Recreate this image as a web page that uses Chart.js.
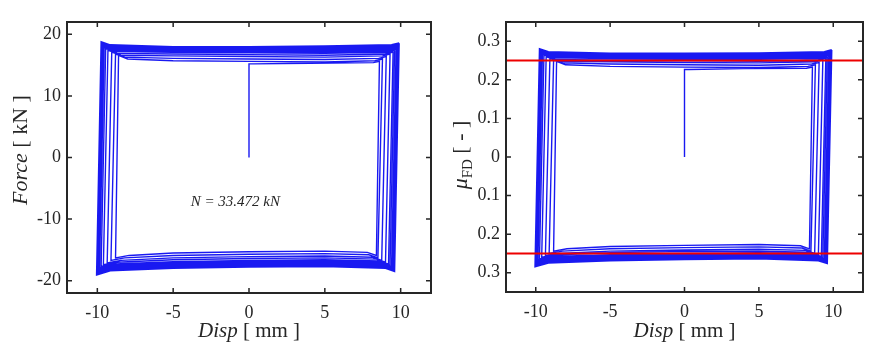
<!DOCTYPE html>
<html>
<head>
<meta charset="utf-8">
<script src="https://cdn.jsdelivr.net/npm/chart.js@4.4.0/dist/chart.umd.min.js"></script>
<style>
  body { margin: 0; background: #fff; }
  canvas { position: absolute; top: 0; }
</style>
</head>
<body>
<canvas id="forceChart" width="442" height="345" style="left:0"></canvas>
<canvas id="muChart" width="442" height="345" style="left:442px"></canvas>
<script>
// first loading branch (disp in mm, force in kN, mu in -)
const startDisp = [0, 0, 0.3, 4, 8.2, 8.6];
const startForce = [0, 15.2, 15.2, 15.3, 15.4, 15.6];
const startMu = [0, 0.227, 0.227, 0.229, 0.230, 0.233];

// one row per cycle: drop at right, bottom to the left, rise at left, top to the right
const cycleDisp = [
  [8.4, 7.8, 5, 0, -5, -7.9, -8.8, -8.6, -8.0, -5, 0, 5, 8.3, 8.8],
  [8.5, 7.9, 5, 0, -5, -8.2, -9.1, -8.8, -8.2, -5, 0, 5, 8.55, 9.05],
  [8.75, 8.15, 5, 0, -5, -8.45, -9.35, -9.05, -8.45, -5, 0, 5, 8.8, 9.3],
  [9.0, 8.4, 5, 0, -5, -8.7, -9.6, -9.3, -8.7, -5, 0, 5, 9.0, 9.5],
  [9.2, 8.6, 5, 0, -5, -8.85, -9.75, -9.45, -8.85, -5, 0, 5, 9.1, 9.6],
  [9.3, 8.7, 5, 0, -5, -8.95, -9.85, -9.55, -8.95, -5, 0, 5, 9.2, 9.7],
  [9.4, 8.8, 5, 0, -5, -9.0, -9.9, -9.6, -9.0, -5, 0, 5, 9.25, 9.75],
  [9.45, 8.85, 5, 0, -5, -9.05, -9.95, -9.65, -9.05, -5, 0, 5, 9.3, 9.8],
  [9.5, 8.9, 5, 0, -5, -9.1, -10.0, -9.7, -9.1, -5, 0, 5, 9.35, 9.85],
  [9.55, 8.95, 5, 0, -5, -9.1, -10.0, -9.7, -9.1, -5, 0, 5, 9.35, 9.85],
  [9.55, 8.95, 5, 0, -5, -9.15, -10.05, -9.75, -9.15, -5, 0, 5, 9.4, 9.9],
  [9.6, 9.0, 5, 0, -5, -9.15, -10.05, -9.75, -9.15, -5, 0, 5, 9.4, 9.9]
];
const cycleForce = [
  [-15.9, -15.4, -15.2, -15.3, -15.5, -15.9, -16.3, 16.6, 16.0, 15.7, 15.6, 15.5, 15.7, 16.0],
  [-16.3, -15.8, -15.6, -15.7, -15.9, -16.3, -16.7, 16.8, 16.3, 16.1, 16.0, 15.9, 16.1, 16.4],
  [-16.7, -16.2, -16.0, -16.1, -16.3, -16.7, -17.1, 17.1, 16.6, 16.5, 16.4, 16.3, 16.5, 16.8],
  [-17.0, -16.5, -16.3, -16.4, -16.6, -17.0, -17.4, 17.4, 16.9, 16.8, 16.7, 16.6, 16.8, 17.1],
  [-17.3, -16.8, -16.6, -16.7, -16.9, -17.3, -17.7, 17.7, 17.2, 17.1, 17.0, 16.9, 17.1, 17.4],
  [-17.5, -17.0, -16.8, -16.9, -17.1, -17.5, -17.9, 17.9, 17.4, 17.3, 17.2, 17.1, 17.3, 17.6],
  [-17.7, -17.2, -17.0, -17.1, -17.3, -17.7, -18.1, 18.1, 17.6, 17.5, 17.4, 17.3, 17.5, 17.8],
  [-17.9, -17.4, -17.2, -17.3, -17.5, -17.9, -18.3, 18.2, 17.7, 17.6, 17.5, 17.4, 17.6, 17.9],
  [-18.0, -17.5, -17.3, -17.4, -17.6, -18.0, -18.5, 18.4, 17.9, 17.8, 17.7, 17.6, 17.8, 18.1],
  [-18.2, -17.7, -17.5, -17.6, -17.8, -18.2, -18.7, 18.5, 18.0, 17.9, 17.8, 17.8, 18.0, 18.3],
  [-18.3, -17.8, -17.6, -17.7, -17.9, -18.3, -18.9, 18.6, 18.1, 18.0, 17.9, 18.0, 18.2, 18.4],
  [-18.5, -18.0, -17.7, -17.8, -18.0, -18.4, -19.1, 18.8, 18.3, 18.0, 18.0, 18.1, 18.3, 18.6]
];
const cycleMu = [
  [-0.238, -0.230, -0.227, -0.229, -0.232, -0.238, -0.244, 0.248, 0.239, 0.235, 0.233, 0.232, 0.235, 0.239],
  [-0.244, -0.236, -0.233, -0.235, -0.238, -0.244, -0.250, 0.251, 0.244, 0.241, 0.239, 0.238, 0.241, 0.245],
  [-0.250, -0.242, -0.239, -0.241, -0.244, -0.250, -0.255, 0.255, 0.248, 0.247, 0.245, 0.244, 0.247, 0.251],
  [-0.254, -0.247, -0.244, -0.245, -0.248, -0.254, -0.260, 0.260, 0.253, 0.251, 0.250, 0.248, 0.251, 0.255],
  [-0.258, -0.251, -0.248, -0.250, -0.253, -0.258, -0.264, 0.264, 0.257, 0.255, 0.254, 0.253, 0.255, 0.260],
  [-0.261, -0.254, -0.251, -0.253, -0.255, -0.261, -0.267, 0.267, 0.260, 0.258, 0.257, 0.255, 0.258, 0.263],
  [-0.264, -0.257, -0.254, -0.255, -0.258, -0.264, -0.270, 0.270, 0.263, 0.261, 0.260, 0.258, 0.261, 0.266],
  [-0.267, -0.260, -0.257, -0.258, -0.261, -0.267, -0.273, 0.272, 0.264, 0.263, 0.261, 0.260, 0.263, 0.267],
  [-0.269, -0.261, -0.258, -0.260, -0.263, -0.269, -0.276, 0.275, 0.267, 0.266, 0.264, 0.263, 0.266, 0.270],
  [-0.272, -0.264, -0.261, -0.263, -0.266, -0.272, -0.279, 0.276, 0.269, 0.267, 0.266, 0.266, 0.269, 0.273],
  [-0.273, -0.266, -0.263, -0.264, -0.267, -0.273, -0.282, 0.278, 0.270, 0.269, 0.267, 0.269, 0.272, 0.275],
  [-0.276, -0.269, -0.264, -0.266, -0.269, -0.275, -0.285, 0.281, 0.273, 0.269, 0.269, 0.270, 0.273, 0.278]
];

const dispTicks = [-10, -5, 0, 5, 10];
const forceTicks = [-20, -10, 0, 10, 20];
const muTicks = [-0.3, -0.2, -0.1, 0, 0.1, 0.2, 0.3];
const muTickLabels = ['0.3', '0.2', '0.1', '0', '0.1', '0.2', '0.3'];
const frictionLimit = [0.25, -0.25];
const noteText = 'N = 33.472 kN';
const notePos = [-0.9, -7.3]; // disp, force

const FONT = "'Liberation Serif', 'Times New Roman', serif";
const INK = '#262626';
const LOOP_BLUE = 'rgba(0, 0, 240, 0.9)';

// join the start branch and all cycle rows into one path
function buildPath(yStart, yRows) {
  const pts = startDisp.map((x, i) => ({ x: x, y: yStart[i] }));
  cycleDisp.forEach((row, r) => {
    row.forEach((x, i) => pts.push({ x: x, y: yRows[r][i] }));
  });
  return pts;
}

// frame with inward ticks on all four sides
const frameTicks = {
  id: 'frameTicks',
  afterDraw(chart) {
    const { ctx, chartArea: a, scales } = chart;
    ctx.save();
    ctx.strokeStyle = INK;
    ctx.lineWidth = 1.5;
    ctx.beginPath();
    scales.x.ticks.forEach(t => {
      const px = scales.x.getPixelForValue(t.value);
      ctx.moveTo(px, a.bottom); ctx.lineTo(px, a.bottom - 5);
      ctx.moveTo(px, a.top); ctx.lineTo(px, a.top + 5);
    });
    scales.y.ticks.forEach(t => {
      const py = scales.y.getPixelForValue(t.value);
      ctx.moveTo(a.left, py); ctx.lineTo(a.left + 5, py);
      ctx.moveTo(a.right, py); ctx.lineTo(a.right - 5, py);
    });
    ctx.stroke();
    ctx.lineWidth = 2;
    ctx.strokeRect(a.left, a.top, a.width, a.height);
    ctx.restore();
  }
};

// draw a row of text pieces with mixed styles, centred on (0,0) of current transform
function drawPieces(ctx, pieces) {
  let total = 0;
  pieces.forEach(p => { ctx.font = p.font; p.w = ctx.measureText(p.t).width; total += p.w; });
  let x = -total / 2;
  pieces.forEach(p => {
    ctx.font = p.font;
    ctx.fillText(p.t, x, p.dy || 0);
    x += p.w;
  });
}

function axisTitles(xPieces, yPieces, yTitleX, yTitleY) {
  return {
    id: 'axisTitles',
    afterDraw(chart) {
      const { ctx, chartArea: a } = chart;
      ctx.save();
      ctx.fillStyle = INK;
      ctx.textBaseline = 'alphabetic';
      ctx.textAlign = 'left';
      ctx.save();
      ctx.translate((a.left + a.right) / 2, 337);
      drawPieces(ctx, xPieces);
      ctx.restore();
      ctx.save();
      ctx.translate(yTitleX, yTitleY);
      ctx.rotate(-Math.PI / 2);
      drawPieces(ctx, yPieces);
      ctx.restore();
      ctx.restore();
    }
  };
}

const noteLabel = {
  id: 'noteLabel',
  afterDraw(chart) {
    const { ctx, scales } = chart;
    ctx.save();
    ctx.fillStyle = INK;
    ctx.font = 'italic 15px ' + FONT;
    ctx.textAlign = 'center';
    ctx.textBaseline = 'middle';
    ctx.fillText(noteText, scales.x.getPixelForValue(notePos[0]), scales.y.getPixelForValue(notePos[1]));
    ctx.restore();
  }
};

function makeOptions(yMin, yMax, yTickValues, yLabel, yWidth, padRight, xHeight) {
  return {
    responsive: false,
    animation: false,
    layout: { padding: { top: 22, right: padRight, left: 0, bottom: 0 } },
    plugins: { legend: { display: false }, tooltip: { enabled: false } },
    scales: {
      x: {
        type: 'linear',
        min: -12,
        max: 12,
        grid: { display: false, drawTicks: false },
        border: { display: false },
        afterBuildTicks: s => { s.ticks = dispTicks.map(v => ({ value: v })); },
        afterFit: s => { s.height = xHeight; },
        ticks: { color: INK, padding: 9, font: { family: FONT, size: 18 }, callback: v => String(v) }
      },
      y: {
        type: 'linear',
        min: yMin,
        max: yMax,
        grid: { display: false, drawTicks: false },
        border: { display: false },
        afterBuildTicks: s => { s.ticks = yTickValues.map(v => ({ value: v })); },
        afterFit: s => { s.width = yWidth; },
        ticks: { color: INK, padding: 6, font: { family: FONT, size: 18 }, callback: yLabel }
      }
    }
  };
}

const italic = sz => 'italic ' + sz + 'px ' + FONT;
const roman = sz => sz + 'px ' + FONT;
const dispTitle = [{ t: 'Disp', font: italic(21) }, { t: ' [ mm ]', font: roman(21) }];

const loopStyle = {
  showLine: true,
  borderColor: LOOP_BLUE,
  borderWidth: 1.4,
  pointRadius: 0,
  tension: 0
};

new Chart(document.getElementById('forceChart'), {
  type: 'scatter',
  data: {
    datasets: [Object.assign({ data: buildPath(startForce, cycleForce) }, loopStyle)]
  },
  options: makeOptions(-22, 22, forceTicks, v => String(v), 67, 11, 52),
  plugins: [frameTicks, noteLabel,
    axisTitles(dispTitle, [{ t: 'Force', font: italic(22) }, { t: ' [ kN ]', font: roman(22) }], 27, 150)]
});

new Chart(document.getElementById('muChart'), {
  type: 'scatter',
  data: {
    datasets: [
      {
        data: [{ x: -12, y: frictionLimit[0] }, { x: 12, y: frictionLimit[0] }],
        showLine: true, borderColor: '#ee0000', borderWidth: 2, pointRadius: 0
      },
      {
        data: [{ x: -12, y: frictionLimit[1] }, { x: 12, y: frictionLimit[1] }],
        showLine: true, borderColor: '#ee0000', borderWidth: 2, pointRadius: 0
      },
      Object.assign({ data: buildPath(startMu, cycleMu) }, loopStyle)
    ]
  },
  options: makeOptions(-0.35, 0.35, muTicks, (v, i) => muTickLabels[i], 64, 21, 53),
  plugins: [frameTicks,
    axisTitles(dispTitle, [
      { t: '\u03bc', font: italic(22) },
      { t: 'FD', font: roman(15), dy: 5 },
      { t: ' [ - ]', font: roman(22) }
    ], 25, 155)]
});
</script>
</body>
</html>
